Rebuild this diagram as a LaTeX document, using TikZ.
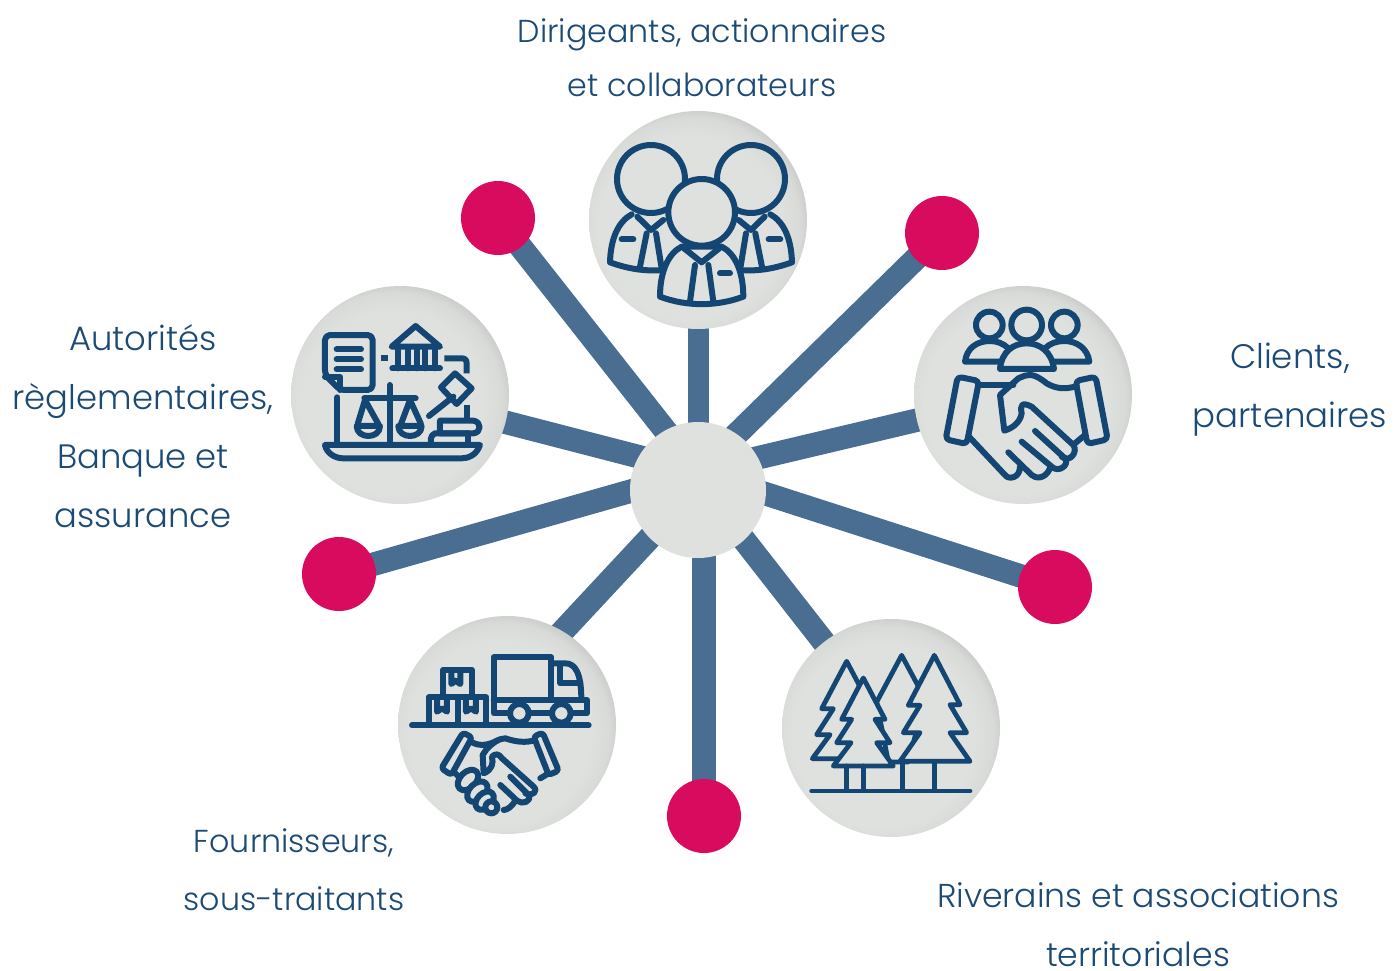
\documentclass[tikz,border=0pt]{standalone}
\usepackage{fontspec}
\setmainfont{Poppins Light}
\usetikzlibrary{backgrounds}
\definecolor{spokec}{HTML}{4A6D92}
\definecolor{hubc}{HTML}{DEE1DD}
\definecolor{pinkc}{HTML}{D80B5F}
\definecolor{iconc}{HTML}{134672}
\definecolor{textc}{HTML}{1A4A75}
\pgfdeclareradialshading{ball}{\pgfpoint{-3bp}{-3bp}}{color(0bp)=(hubc); color(21bp)=(hubc); color(25bp)=(hubc!97!black); color(28.4bp)=(hubc!87!black); color(29.2bp)=(hubc!90!white); color(50bp)=(hubc!90!white)}
\tikzset{
  disc/.style={circle,minimum size=218pt,inner sep=0pt,shading=ball},
  hubnode/.style={circle,minimum size=136pt,inner sep=0pt,fill=hubc},
  dot/.style={circle,minimum size=74pt,inner sep=0pt,fill=pinkc},
  spoke/.style={draw=spokec,line width=23.5pt},
  lab/.style={text=textc,align=center},
  ic/.style={draw=iconc,line width=6pt,line cap=round,line join=round},
  icf/.style={ic,fill=hubc},
  ict/.style={draw=iconc,line width=4.8pt,line cap=round,line join=round},
  ictf/.style={ict,fill=hubc}
}
\begin{document}
\begin{tikzpicture}[x=1pt,y=-1pt]
\useasboundingbox (0,0) rectangle (1400,970);
\node[hubnode] (hub) at (698,490) {};
\node[disc] (dTop) at (698,220) {};
\node[disc] (dRight) at (1023,395) {};
\node[disc] (dLeft) at (400,395) {};
\node[disc] (dLL) at (507,725) {};
\node[disc] (dLR) at (891,728) {};
\node[dot] (p1) at (498,218) {};
\node[dot] (p2) at (942,233) {};
\node[dot] (p3) at (339,574) {};
\node[dot] (p4) at (1055,587) {};
\node[dot] (p5) at (704,816) {};
\coordinate (hA) at (698,472);
\coordinate (hB) at (698,486);
\coordinate (hC) at (698,481);
\coordinate (hD) at (704,490);
\coordinate (eLL) at (520,677);
\begin{scope}[on background layer]
\draw[spoke,line width=21pt] (hub.center) -- (dTop.center);
\draw[spoke] (hA) -- (dRight.center);
\draw[spoke] (hA) -- (dLeft.center);
\draw[spoke] (hB) -- (eLL);
\draw[spoke] (hC) -- (dLR.center);
\draw[spoke] (hA) -- (p1.center);
\draw[spoke] (hA) -- (p2.center);
\draw[spoke] (hA) -- (p3.center);
\draw[spoke] (hA) -- (p4.center);
\draw[spoke] (hD) -- (p5.center);
\end{scope}

\node[lab,font=\fontsize{31.7}{54}\selectfont] (t1) at (702,58) {Dirigeants, actionnaires\\et collaborateurs};
\node[lab,font=\fontsize{34}{59}\selectfont] (t2) at (1290,390) {Clients,\\partenaires};
\node[lab,font=\fontsize{33.8}{59}\selectfont] (t3) at (143,426) {Autorités\\règlementaires,\\Banque et\\assurance};
\node[lab,font=\fontsize{31.7}{58}\selectfont] (t4) at (294,870) {Fournisseurs,\\sous-traitants};
\node[lab,font=\fontsize{33.1}{59}\selectfont] (t5) at (1138,925) {Riverains et associations\\territoriales};

% people
\begin{scope}[shift={(580,105)},x=0.3333pt,y=-0.3333pt]
\foreach \sx/\dx in {1/0,-1/726}{
\begin{scope}[shift={(\dx,0)},xscale=\sx]
\draw[ic] (155,328) .. controls (115,350) and (92,400) .. (90,472) .. controls (140,490) and (190,500) .. (250,495);
\draw[ic] (172,335) -- (213,375) -- (250,345);
\draw[ic] (200,385) -- (180,485);
\draw[ic] (228,385) -- (245,490);
\draw[ic] (125,403) -- (160,403);
\draw[ic] (213,222) circle (102);
\end{scope}}
\draw[icf] (305,425) .. controls (265,445) and (240,500) .. (240,575) .. controls (320,605) and (410,605) .. (490,575) .. controls (490,500) and (465,445) .. (425,425) -- cycle;
\draw[ic] (312,430) -- (365,472) -- (418,430);
\draw[ic] (345,480) -- (330,590);
\draw[ic] (385,480) -- (400,590);
\draw[ic] (420,505) -- (450,505);
\draw[icf] (365,322) circle (100);
\end{scope}

% clients
\begin{scope}[shift={(905,280)},x=0.3333pt,y=-0.3333pt]
\draw[ic] (253,135) circle (40);
\draw[ic] (478,135) circle (40);
\draw[ic] (365,135) circle (46);
\draw[ic] (310,205) .. controls (295,190) and (275,183) .. (255,183) .. controls (215,183) and (185,205) .. (180,245) -- (285,245);
\draw[ic] (420,205) .. controls (435,190) and (455,183) .. (478,183) .. controls (515,183) and (548,205) .. (553,245) -- (447,245);
\draw[icf] (285,267) .. controls (290,215) and (325,190) .. (365,190) .. controls (405,190) and (440,215) .. (447,267) -- cycle;
\draw[ic,rounded corners=4pt] (158,290) -- (222,303) -- (185,492) -- (122,478) -- cycle;
\draw[ic,rounded corners=4pt] (512,303) -- (572,290) -- (608,478) -- (547,492) -- cycle;
\draw[ic] (222,315) -- (325,315);
\draw[ic] (515,318) .. controls (480,330) and (450,325) .. (425,310) .. controls (400,290) and (380,280) .. (360,287) -- (340,295) -- (285,345) -- (298,452) .. controls (320,445) and (345,430) .. (350,400) .. controls (345,375) and (350,365) .. (380,380) -- (505,495) .. controls (520,515) and (495,550) .. (470,530);
\draw[ic] (390,453) -- (480,535) .. controls (495,555) and (460,580) .. (440,560) -- (350,485);
\draw[ic] (435,565) .. controls (420,600) and (390,595) .. (380,585) -- (310,517);
\draw[ic] (345,560) .. controls (345,595) and (310,600) .. (300,585) -- (192,470);
\draw[ic] (510,490) -- (540,465);
\end{scope}

% legal
\begin{scope}[shift={(285,280)},x=0.3333pt,y=-0.3333pt]
\draw[ic,rounded corners=5pt] (120,285) -- (120,165) -- (263,165) -- (263,330) -- (165,330) -- cycle;
\draw[ic] (120,290) -- (165,290) -- (165,330);
\draw[ic] (155,208) -- (228,208);
\draw[ic] (155,238) -- (228,238);
\draw[ic] (155,268) -- (228,268);
\draw[ic,line cap=butt] (287,235) -- (310,235);
\draw[ic] (320,200) -- (392,138) -- (465,200) -- cycle;
\draw[ic] (322,265) -- (465,265);
\foreach \x in {340,368,395,420,450}{\draw[ic] (\x,205) -- (\x,265);}
\draw[ic,line cap=butt] (478,235) -- (530,235) .. controls (540,235) and (545,240) .. (545,250) -- (545,280);
\draw[ic] (510,280) -- (560,325) -- (515,372) -- (468,322) -- cycle;
\draw[ic] (505,350) -- (432,408);
\draw[ic,line cap=butt] (545,375) -- (545,415);
\draw[ic] (465,422) -- (565,422) .. controls (590,425) and (590,458) .. (565,460) -- (465,460) -- cycle;
\draw[ic] (550,460) -- (450,460) .. controls (435,465) and (435,488) .. (440,492);
\draw[ic] (550,460) -- (550,492);
\draw[ic] (314,315) -- (314,495);
\draw[ic] (238,355) -- (392,355);
\draw[ic] (218,432) -- (240,360) -- (280,432);
\draw[ic] (348,432) -- (375,360) -- (408,432);
\draw[ic] (215,438) -- (285,438) .. controls (285,478) and (215,478) .. (215,438) -- cycle;
\draw[ic] (340,438) -- (410,438) .. controls (410,478) and (340,478) .. (340,438) -- cycle;
\draw[ic] (157,352) -- (157,495);
\draw[icf] (120,495) -- (585,495) .. controls (575,525) and (550,535) .. (530,535) -- (175,535) .. controls (150,535) and (125,520) .. (120,495) -- cycle;
\end{scope}

% suppliers
\begin{scope}[shift={(392,610)},x=0.3333pt,y=-0.3333pt]
\draw[ic] (350,310) -- (305,310) -- (305,142) -- (478,142) -- (478,268);
\draw[ic] (478,160) -- (520,160) .. controls (550,160) and (568,190) .. (568,268);
\draw[ic] (505,165) -- (505,220) -- (565,220);
\draw[ic] (305,270) -- (585,270) -- (585,310) -- (540,310);
\draw[ic] (415,310) -- (478,310);
\draw[icf] (382,310) circle (28);
\draw[icf] (508,310) circle (28);
\draw[ic] (153,258) -- (153,180) -- (240,180) -- (240,258);
\draw[ic] (110,342) -- (110,262) -- (283,262) -- (283,342);
\draw[ic] (197,262) -- (197,342);
\draw[ic] (178,182) -- (178,222) -- (190,212) -- (205,222) -- (205,182);
\draw[ic] (135,264) -- (135,305) -- (150,295) -- (165,305) -- (165,264);
\draw[ic] (222,264) -- (222,305) -- (237,295) -- (252,305) -- (252,264);
\draw[ic] (60,346) -- (590,346);
\draw[ic,rounded corners=3pt] (213,368) -- (240,382) -- (178,495) -- (148,475) -- cycle;
\draw[ic,rounded corners=3pt] (425,380) -- (452,368) -- (500,482) -- (470,495) -- cycle;
\draw[ic] (240,397) .. controls (265,410) and (290,405) .. (315,392);
\draw[ic] (430,390) .. controls (400,400) and (370,395) .. (340,385) .. controls (320,385) and (300,400) .. (282,420) -- (272,435) -- (275,490) .. controls (300,480) and (305,460) .. (300,440) .. controls (310,430) and (320,430) .. (330,445) -- (425,530) .. controls (440,545) and (420,560) .. (400,550);
\draw[ic] (355,500) -- (410,555) .. controls (420,575) and (390,585) .. (375,572) -- (325,525);
\draw[ic] (370,572) .. controls (360,590) and (345,600) .. (335,600);
\draw[ic] (445,505) -- (470,490);
\draw[ic] (190,490) -- (205,505);
\draw[icf,rotate around={45:(228,510)}] (228,510) ellipse (36 and 24);
\draw[icf,rotate around={45:(256,545)}] (256,545) ellipse (36 and 24);
\draw[icf,rotate around={45:(278,572)}] (278,572) ellipse (32 and 22);
\draw[icf] (298,592) circle (18);
\end{scope}

% trees
\begin{scope}[shift={(775,612)},x=0.3333pt,y=-0.3333pt]
\draw[ictf] (215,148) -- (290,290) -- (200,440) -- (112,440) -- (165,368) -- (125,368) -- (175,290) -- (140,290) -- cycle;
\draw[ictf] (380,130) -- (450,260) -- (400,450) -- (340,450) -- (305,270) -- cycle;
\draw[ictf] (478,130) -- (555,278) -- (525,278) -- (575,362) -- (525,362) -- (585,448) -- (375,448) -- (435,362) -- (385,362) -- (435,280) -- (400,280) -- cycle;
\draw[ictf] (265,198) -- (330,322) -- (300,322) -- (345,392) -- (305,392) -- (355,462) -- (175,462) -- (228,392) -- (185,392) -- (230,322) -- (200,322) -- cycle;
\draw[ict] (215,462) -- (215,535);
\draw[ict] (265,462) -- (265,535);
\draw[ict] (382,448) -- (382,535);
\draw[ict] (478,448) -- (478,535);
\draw[ict] (110,537) -- (585,537);
\end{scope}
\end{tikzpicture}
\end{document}
